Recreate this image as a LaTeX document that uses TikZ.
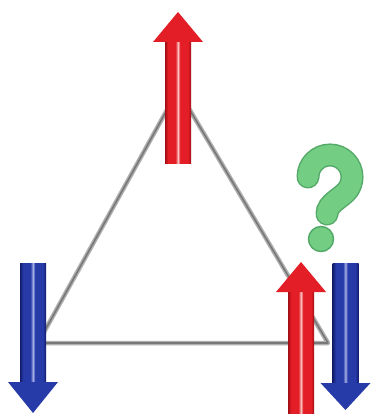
\documentclass[tikz,border=0pt]{standalone}
\definecolor{reddark}{RGB}{160,14,20}
\definecolor{redmid}{RGB}{228,30,38}
\definecolor{redlight}{RGB}{250,195,195}
\definecolor{bluedark}{RGB}{18,28,105}
\definecolor{bluemid}{RGB}{38,58,168}
\definecolor{bluelight}{RGB}{165,175,230}
\definecolor{qdark}{RGB}{85,170,105}
\definecolor{qlight}{RGB}{115,205,130}
\definecolor{trilight}{RGB}{175,175,175}
\definecolor{tridark}{RGB}{120,120,120}
\pgfdeclarehorizontalshading{redshaft}{100bp}{color(0bp)=(reddark); color(25bp)=(reddark); color(31bp)=(redmid); color(45bp)=(redmid); color(50bp)=(redlight); color(54bp)=(redmid); color(69bp)=(redmid); color(75bp)=(reddark); color(100bp)=(reddark)}
\pgfdeclarehorizontalshading{blueshaft}{100bp}{color(0bp)=(bluedark); color(25bp)=(bluedark); color(31bp)=(bluemid); color(45bp)=(bluemid); color(50bp)=(bluelight); color(54bp)=(bluemid); color(69bp)=(bluemid); color(75bp)=(bluedark); color(100bp)=(bluedark)}
% cx, tip, headbase, shaft end, colour scheme
\newcommand\spinup[5]{%
  \shade[shading=#5shaft] (#1-13,#3-1) rectangle (#1+13,#4);
  \fill[#5mid] (#1,#2) -- (#1+25,#3) -- (#1-25,#3) -- cycle;
}
\newcommand\spindown[5]{%
  \shade[shading=#5shaft] (#1-13,#4) rectangle (#1+13,#3+1);
  \fill[#5mid] (#1,#2) -- (#1+25,#3) -- (#1-25,#3) -- cycle;
}
\tikzset{
  triedge/.style={draw=trilight, line width=4.5pt, line join=round},
  triinner/.style={draw=tridark, line width=1.6pt, line join=round},
  qouter/.style={draw=qdark, line width=23pt, line cap=round},
  qinner/.style={draw=qlight, line width=20pt, line cap=round},
}
\begin{document}
\begin{tikzpicture}[x=1pt,y=-1pt]
\useasboundingbox (0,0) rectangle (379,414);
\fill[white] (0,0) rectangle (379,414);
% triangle
\coordinate (A) at (178,90);
\coordinate (B) at (38,343);
\coordinate (C) at (328,343);
\draw[triedge] (A) -- (B) -- (C) -- cycle;
\draw[triinner] (A) -- (B) -- (C) -- cycle;
% question mark
\path[qouter] (308,177) arc[start angle=180, end angle=395, radius=22] .. controls (342,198) and (327,203) .. (327,214);
\path[qinner] (308,177) arc[start angle=180, end angle=395, radius=22] .. controls (342,198) and (327,203) .. (327,214);
\fill[qlight, draw=qdark, line width=1.5pt] (321,239) circle[radius=12.5];
% arrows
\spinup{178}{12}{42}{163}{red}
\spinup{301}{262}{292}{414}{red}
\spindown{33}{413}{382}{263}{blue}
\spindown{345.5}{410}{383}{263}{blue}
\end{tikzpicture}
\end{document}
